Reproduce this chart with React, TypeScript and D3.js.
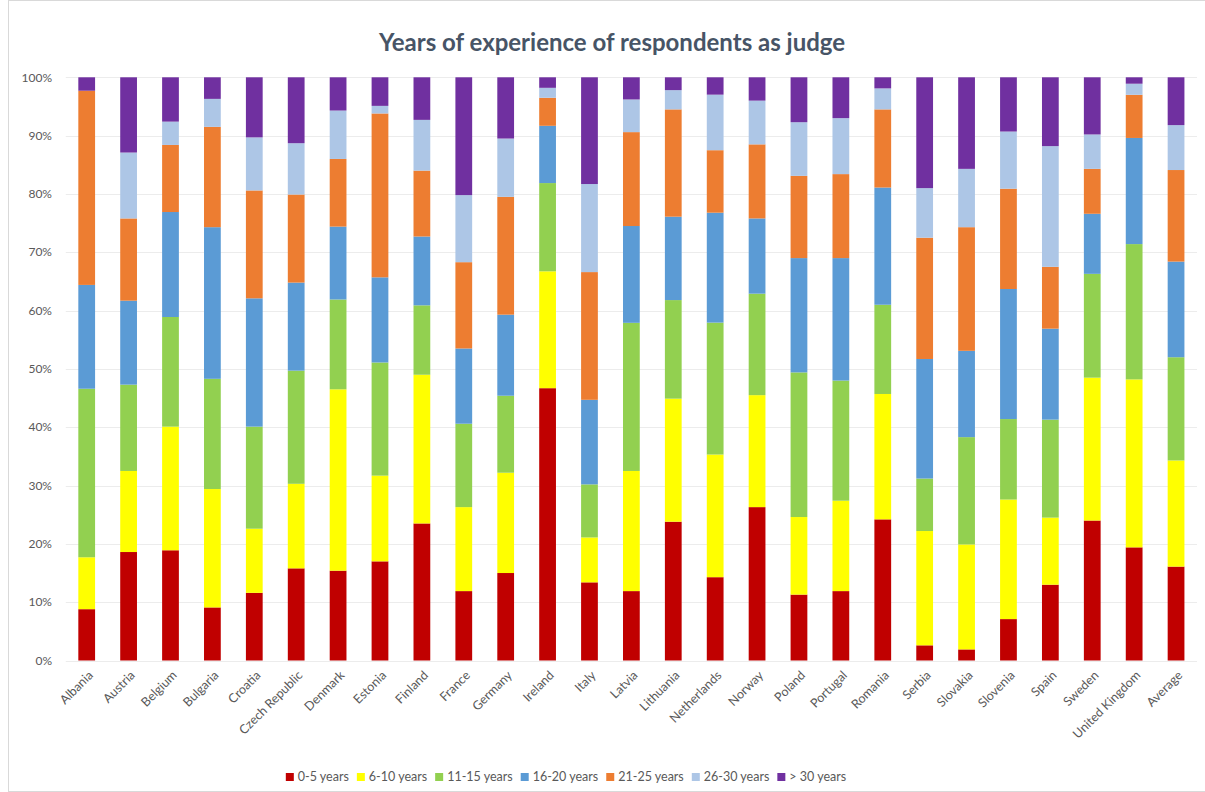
import React, { useEffect, useRef } from "react";
import * as d3 from "d3";

const categories = ["Albania","Austria","Belgium","Bulgaria","Croatia","Czech Republic","Denmark","Estonia","Finland","France","Germany","Ireland","Italy","Latvia","Lithuania","Netherlands","Norway","Poland","Portugal","Romania","Serbia","Slovakia","Slovenia","Spain","Sweden","United Kingdom","Average"];

const seriesNames = ["0-5 years","6-10 years","11-15 years","16-20 years","21-25 years","26-30 years","> 30 years"];
const seriesColors = ["#C00000","#FFFF00","#92D050","#5B9BD5","#ED7D31","#ADC6E6","#7030A0"];

const years0to5 = [8.8,18.6,18.9,9.1,11.6,15.8,15.4,17.0,23.5,11.9,15.0,46.6,13.4,11.9,23.8,14.4,26.3,11.3,11.9,24.2,2.6,1.9,7.1,13.0,24.0,19.4,16.1];
const years6to10 = [8.9,13.9,21.2,20.3,11.0,14.5,31.1,14.7,25.5,14.4,17.2,20.0,7.7,20.6,21.1,21.2,19.2,13.3,15.5,21.5,19.6,18.0,20.5,11.5,24.5,28.8,18.2];
const years11to15 = [28.9,14.8,18.8,18.9,17.5,19.4,15.4,19.4,11.9,14.3,13.2,15.1,9.1,25.4,16.9,22.8,17.4,24.8,20.6,15.3,9.0,18.4,13.8,16.8,17.8,23.2,17.7];
const years16to20 = [17.8,14.4,18.0,26.0,22.0,15.1,12.5,14.6,11.8,12.9,13.9,9.8,14.5,16.6,14.3,19.0,12.9,19.6,21.0,20.1,20.5,14.8,22.3,15.6,10.3,18.2,16.4];
const years21to25 = [33.3,14.1,11.5,17.2,18.5,15.1,11.6,28.1,11.3,14.8,20.2,4.8,21.9,16.1,18.4,10.8,12.7,14.1,14.4,13.4,20.8,21.2,17.2,10.6,7.7,7.4,15.7];
const years26to30 = [0.0,11.3,4.0,4.8,9.1,8.8,8.3,1.3,8.7,11.5,10.0,1.7,15.1,5.6,3.3,9.6,7.5,9.2,9.6,3.6,8.5,10.0,9.8,20.7,5.9,1.9,7.7];
const yearsOver30 = [2.3,12.9,7.6,3.7,10.3,11.3,5.7,4.9,7.3,20.2,10.5,1.8,18.3,3.8,2.2,3.0,4.0,7.7,7.0,1.9,19.0,15.7,9.3,11.8,9.8,1.1,8.2];

const yTicks = [0,0.1,0.2,0.3,0.4,0.5,0.6,0.7,0.8,0.9,1.0];

const W = 1205, H = 792;
const FONT = "Lato, 'Open Sans', sans-serif";

export default function App() {
  const ref = useRef<SVGSVGElement>(null);
  useEffect(() => {
    const svg = d3.select(ref.current);
    svg.selectAll("*").remove();
    const seriesData = [years0to5, years6to10, years11to15, years16to20, years21to25, years26to30, yearsOver30];
    const rows = categories.map((c, i) => {
      const r: any = { cat: c };
      seriesNames.forEach((s, j) => (r[s] = seriesData[j][i]));
      return r;
    });
    const stack = d3.stack().keys(seriesNames).offset(d3.stackOffsetExpand);
    const stacked = stack(rows);

    const x = d3.scaleBand().domain(categories).range([65.75, 1197]).paddingInner(0.6).paddingOuter(0.3);
    const y = d3.scaleLinear().domain([0, 1]).range([660.5, 77.3]);

    svg.append("rect").attr("x", 8.5).attr("y", 0.5).attr("width", 1210).attr("height", H - 1)
      .attr("fill", "#fff").attr("stroke", "#d9d9d9");

    svg.append("text").attr("x", 612).attr("y", 51).attr("text-anchor", "middle")
      .attr("font-family", FONT).attr("font-weight", 700).attr("font-size", 24)
      .attr("fill", "#475466").text("Years of experience of respondents as judge");

    const grid = svg.append("g");
    grid.selectAll("line").data(yTicks).join("line")
      .attr("x1", 65.75).attr("x2", 1197)
      .attr("y1", (d) => Math.round(y(d)) + 0.5).attr("y2", (d) => Math.round(y(d)) + 0.5)
      .attr("stroke", "#ececec").attr("stroke-width", 1);

    const fmt = d3.format(".0%");
    svg.append("g").selectAll("text").data(yTicks).join("text")
      .attr("x", 52).attr("y", (d) => y(d)).attr("dy", "0.35em").attr("text-anchor", "end")
      .attr("font-family", FONT).attr("font-size", 12).attr("fill", "#595959").text((d) => fmt(d));

    const gBars = svg.append("g");
    stacked.forEach((layer, j) => {
      gBars.append("g").attr("fill", seriesColors[j]).selectAll("rect").data(layer).join("rect")
        .attr("x", (d: any) => x(d.data.cat)!)
        .attr("width", x.bandwidth())
        .attr("y", (d: any) => y(d[1]))
        .attr("height", (d: any) => Math.max(0, y(d[0]) - y(d[1])));
    });

    svg.append("g").selectAll("text").data(categories).join("text")
      .attr("transform", (d) => `translate(${x(d)! + x.bandwidth() / 2 + 4},${673}) rotate(-45)`)
      .attr("text-anchor", "end").attr("dy", "0.35em")
      .attr("font-family", FONT).attr("font-size", 12.5).attr("fill", "#595959").text((d) => d);

    const legend = svg.append("g");
    const items = legend.selectAll("g").data(seriesNames).join("g");
    items.append("rect").attr("width", 8).attr("height", 8).attr("y", 773).attr("fill", (d, i) => seriesColors[i]);
    const texts = items.append("text").attr("x", 12).attr("y", 777).attr("dy", "0.35em")
      .attr("font-family", FONT).attr("font-size", 12.5).attr("fill", "#595959").text((d) => d);
    const widths: number[] = [];
    texts.each(function () { widths.push((this as SVGTextElement).getComputedTextLength()); });
    const gap = 8;
    const total = widths.reduce((a, w) => a + 12 + w, 0) + gap * (widths.length - 1);
    let cx = 566 - total / 2;
    items.each(function (d, i) {
      d3.select(this).attr("transform", `translate(${cx},0)`);
      cx += 12 + widths[i] + gap;
    });
  }, []);
  return (
    <svg ref={ref} width={W} height={H} style={{ position: "absolute", left: 0, top: 0, background: "#fff" }} />
  );
}
